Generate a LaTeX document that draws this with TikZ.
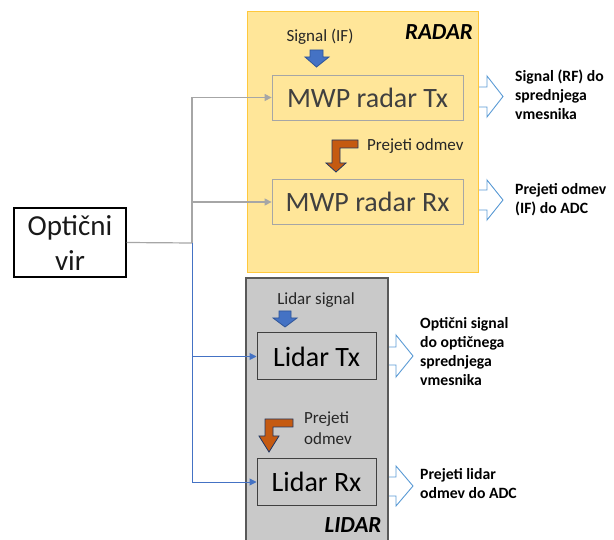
\documentclass[tikz,border=0pt]{standalone}
\usepackage{fontspec}
\setmainfont{Carlito}
\usetikzlibrary{arrows.meta}
\definecolor{yfill}{RGB}{255,230,153}
\definecolor{yedge}{RGB}{255,200,60}
\definecolor{gfill}{RGB}{201,201,201}
\definecolor{gedge}{RGB}{89,89,89}
\definecolor{lgray}{RGB}{166,166,166}
\definecolor{bline}{RGB}{68,114,196}
\definecolor{bdark}{RGB}{47,85,151}
\definecolor{hollow}{RGB}{91,155,213}
\definecolor{orng}{RGB}{197,90,17}
\definecolor{navy}{RGB}{32,56,100}
\definecolor{dtext}{RGB}{64,64,64}
\tikzset{
  bigtxt/.style={font=\fontsize{28}{34}\selectfont},
  radarbox/.style={draw=lgray, line width=0.8pt, fill=yfill, text=dtext, bigtxt, minimum width=191pt, minimum height=45pt, inner sep=0pt},
  lidarbox/.style={draw=dtext, line width=1pt, fill=gfill, text=black, bigtxt, minimum width=119pt, minimum height=47pt, inner sep=0pt},
  smalltxt/.style={font=\fontsize{17}{20}\selectfont, text=black!85, inner sep=0pt},
  outtxt/.style={font=\fontsize{15.7}{19}\selectfont\bfseries, text=black, align=left, anchor=north west, inner sep=0pt},
  grayln/.style={draw=lgray, line width=1.2pt},
  blueln/.style={draw=bline, line width=1pt},
  tip/.style={-{Triangle[length=7pt,width=7pt]}},
  hollowarr/.style={draw=hollow, line width=0.9pt, fill=white},
  bluearr/.style={fill=bline, draw=bdark, line width=0.8pt},
  orangearr/.style={fill=orng, draw=navy, line width=0.8pt},
  title/.style={font=\fontsize{23}{27}\selectfont\bfseries\itshape, inner sep=0pt}
}
\begin{document}
\begin{tikzpicture}[x=1pt,y=-1pt]
\useasboundingbox (0,0) rectangle (614,540);
% hollow arrows (behind panels)
\draw[hollowarr] (470,87) -- (487,87) -- (487,76) -- (503,96.5) -- (487,117) -- (487,107) -- (470,107) -- cycle;
\draw[hollowarr] (470,190) -- (487,190) -- (487,180) -- (503,200) -- (487,220) -- (487,210) -- (470,210) -- cycle;
\draw[hollowarr] (380,347) -- (396,347) -- (396,335) -- (413,356) -- (396,377) -- (396,365) -- (380,365) -- cycle;
\draw[hollowarr] (380,477) -- (396,477) -- (396,466) -- (413,486) -- (396,506) -- (396,496) -- (380,496) -- cycle;
% panels
\node[draw=yedge, line width=1pt, fill=yfill, minimum width=231pt, minimum height=261pt, inner sep=0pt] (radar) at (362.5,142.5) {};
\node[draw=gedge, line width=1.5pt, fill=gfill, minimum width=142pt, minimum height=272pt, inner sep=0pt] (lidar) at (317,414) {};
\node[title] (radart) at (439,32) {RADAR};
\node[title] (lidart) at (353,525) {LIDAR};
% boxes
\node[radarbox] (rtx) at (367.5,97.5) {MWP radar Tx};
\node[radarbox] (rrx) at (367.5,202) {MWP radar Rx};
\node[lidarbox] (ltx) at (316.5,356.5) {Lidar Tx};
\node[lidarbox] (lrx) at (316.5,482) {Lidar Rx};
\node[draw=black, line width=1.3pt, fill=white, minimum width=112pt, minimum height=69pt, inner sep=0pt, align=center, font=\fontsize{29}{35}\selectfont, text=black!90] (vir) at (70,242.5) {Optični\\vir};
% small labels
\node[smalltxt] (sif) at (320,37) {Signal (IF)};
\node[smalltxt, anchor=west] (rodm) at (367,146) {Prejeti odmev};
\node[smalltxt] (lsig) at (316,300) {Lidar signal};
\node[smalltxt, anchor=west, align=left, font=\fontsize{17}{21}\selectfont] (lodm) at (304,428) {Prejeti\\odmev};
% block arrows
\draw[bluearr] (310,50) -- (323,50) -- (323,57) -- (329,57) -- (316.5,67) -- (305,57) -- (310,57) -- cycle;
\draw[bluearr] (279,311) -- (291,311) -- (291,318) -- (297,318) -- (285,327) -- (273,318) -- (279,318) -- cycle;
\draw[orangearr] (358,140) -- (332,140) -- (332,163) -- (326,163) -- (336,172) -- (346,163) -- (340,163) -- (340,148) -- (358,148) -- cycle;
\draw[orangearr] (293,419) -- (265,419) -- (265,436) -- (259,436) -- (269,452) -- (279,436) -- (273,436) -- (273,427) -- (293,427) -- cycle;
% output texts
\node[outtxt] (o1) at (515,70) {Signal (RF) do\\sprednjega\\vmesnika};
\node[outtxt] (o2) at (515,183) {Prejeti odmev\\(IF) do ADC};
\node[outtxt] (o3) at (420,317) {Optični signal\\do optičnega\\sprednjega\\vmesnika};
\node[outtxt] (o4) at (420,468) {Prejeti lidar\\odmev do ADC};
% connectors
\coordinate (j) at (192,243);
\draw[grayln] (vir.east) -- (j);
\draw[grayln, tip] (j) |- (rtx.west);
\draw[grayln, tip] (j) |- (rrx.west);
\draw[blueln, tip] (j) |- (ltx.west);
\draw[blueln, tip] (j) |- (lrx.west);
\end{tikzpicture}
\end{document}
